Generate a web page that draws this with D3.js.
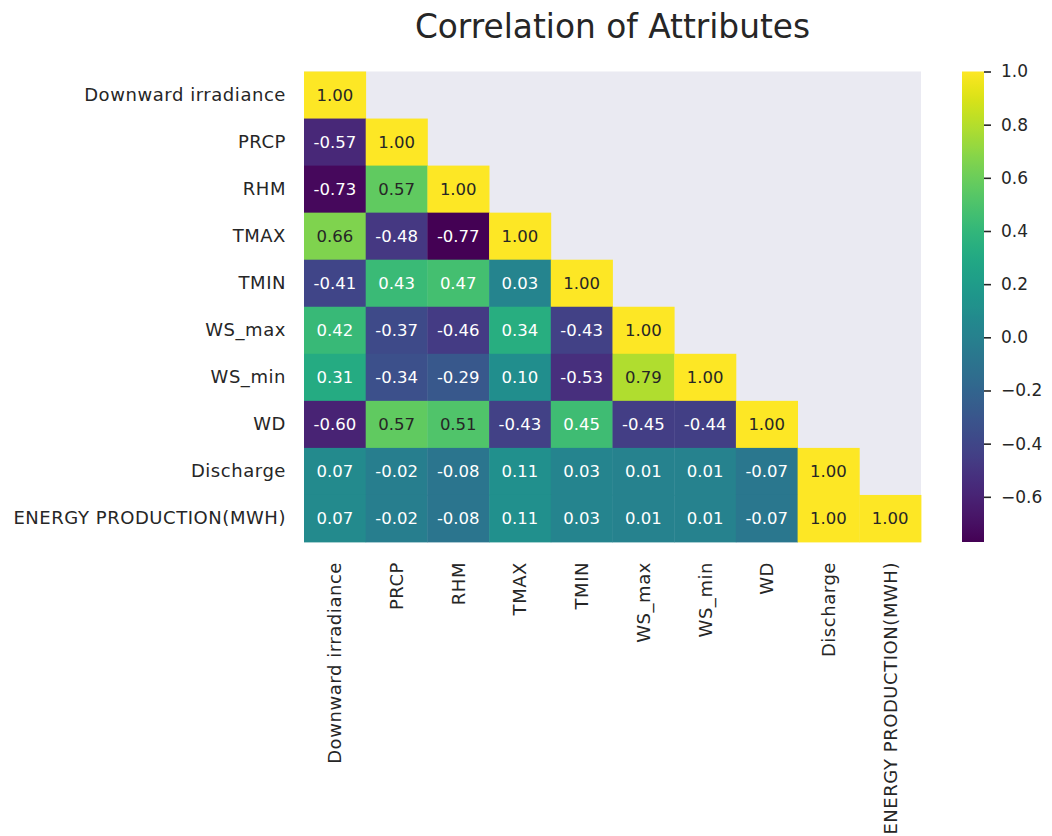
<!DOCTYPE html>
<html>
<head>
<meta charset="utf-8">
<script src="https://cdn.jsdelivr.net/npm/d3@7"></script>
<style>
  html, body { margin: 0; padding: 0; background: #ffffff; }
  svg { display: block; font-family: "DejaVu Sans", sans-serif; }
</style>
</head>
<body>
<svg id="chart" width="1052" height="836"></svg>
<script>
// Attribute names (rows and columns of the correlation matrix)
const attributes = [
  "Downward irradiance", "PRCP", "RHM", "TMAX", "TMIN",
  "WS_max", "WS_min", "WD", "Discharge", "ENERGY PRODUCTION(MWH)"
];

// Lower triangle (incl. diagonal) of the correlation matrix, one array per row
const rowDownward  = [1.00];
const rowPRCP      = [-0.57, 1.00];
const rowRHM       = [-0.73, 0.57, 1.00];
const rowTMAX      = [0.66, -0.48, -0.77, 1.00];
const rowTMIN      = [-0.41, 0.43, 0.47, 0.03, 1.00];
const rowWSmax     = [0.42, -0.37, -0.46, 0.34, -0.43, 1.00];
const rowWSmin     = [0.31, -0.34, -0.29, 0.10, -0.53, 0.79, 1.00];
const rowWD        = [-0.60, 0.57, 0.51, -0.43, 0.45, -0.45, -0.44, 1.00];
const rowDischarge = [0.07, -0.02, -0.08, 0.11, 0.03, 0.01, 0.01, -0.07, 1.00];
const rowEnergy    = [0.07, -0.02, -0.08, 0.11, 0.03, 0.01, 0.01, -0.07, 1.00, 1.00];

const colorbarTicks = [-0.6, -0.4, -0.2, 0.0, 0.2, 0.4, 0.6, 0.8, 1.0];

const title = "Correlation of Attributes";

// ---- build cells ----
const matrixRows = [rowDownward, rowPRCP, rowRHM, rowTMAX, rowTMIN,
                    rowWSmax, rowWSmin, rowWD, rowDischarge, rowEnergy];
const cells = [];
matrixRows.forEach((vals, i) => vals.forEach((v, j) => cells.push({ row: attributes[i], col: attributes[j], value: v })));

const allValues = cells.map(d => d.value);
const vmin = d3.min(allValues), vmax = d3.max(allValues);

// ---- layout ----
const svg = d3.select("#chart");
const plot = { left: 304, top: 71.5, width: 617, height: 470.5 };
const cbar = { left: 962, width: 22 };
const ink = "#262626";
const labelSize = 18, labelSpacing = "0.55px";

const x = d3.scaleBand().domain(attributes).range([plot.left, plot.left + plot.width]).padding(0);
const y = d3.scaleBand().domain(attributes).range([plot.top, plot.top + plot.height]).padding(0);
const color = d3.scaleSequential(d3.interpolateViridis).domain([vmin, vmax]);

// seaborn-style text colour choice from the cell's relative luminance
function luminance(c) {
  const rgb = d3.rgb(c);
  const lin = [rgb.r, rgb.g, rgb.b].map(v => {
    v /= 255;
    return v <= 0.03928 ? v / 12.92 : Math.pow((v + 0.055) / 1.055, 2.4);
  });
  return 0.2126 * lin[0] + 0.7152 * lin[1] + 0.0722 * lin[2];
}

// axes background (visible where the upper triangle is masked)
svg.append("rect")
  .attr("x", plot.left).attr("y", plot.top)
  .attr("width", plot.width).attr("height", plot.height)
  .attr("fill", "#eaeaf2");

// heatmap cells
svg.append("g")
  .selectAll("rect")
  .data(cells)
  .join("rect")
  .attr("x", d => x(d.col))
  .attr("y", d => y(d.row))
  .attr("width", x.bandwidth() + 0.4)
  .attr("height", y.bandwidth() + 0.4)
  .attr("fill", d => color(d.value));

// annotations
svg.append("g")
  .selectAll("text")
  .data(cells)
  .join("text")
  .attr("x", d => x(d.col) + x.bandwidth() / 2)
  .attr("y", d => y(d.row) + y.bandwidth() / 2)
  .attr("dy", "0.36em")
  .attr("text-anchor", "middle")
  .attr("font-size", 16.5)
  .attr("fill", d => luminance(color(d.value)) > 0.408 ? ink : "#ffffff")
  .text(d => d.value.toFixed(2));

// y axis labels
const yAxis = d3.axisLeft(y).tickSize(0).tickPadding(18);
const gy = svg.append("g").attr("transform", `translate(${plot.left},0)`).call(yAxis);
gy.select(".domain").remove();
gy.selectAll("text")
  .attr("font-size", labelSize).attr("letter-spacing", labelSpacing)
  .attr("fill", ink).attr("font-family", "DejaVu Sans");

// x axis labels, rotated
const xAxis = d3.axisBottom(x).tickSize(0).tickPadding(0);
const gx = svg.append("g").attr("transform", `translate(0,${plot.top + plot.height})`).call(xAxis);
gx.select(".domain").remove();
gx.selectAll("text")
  .attr("font-size", labelSize).attr("letter-spacing", labelSpacing)
  .attr("fill", ink).attr("font-family", "DejaVu Sans")
  .attr("text-anchor", "end")
  .attr("transform", "rotate(-90)")
  .attr("x", -20).attr("y", 0).attr("dy", "0.36em");

// colorbar
const cy = d3.scaleLinear().domain([vmin, vmax]).range([plot.top + plot.height, plot.top]);
const grad = svg.append("defs").append("linearGradient")
  .attr("id", "cbarGrad").attr("x1", 0).attr("y1", 1).attr("x2", 0).attr("y2", 0);
d3.range(0, 1.0001, 0.02).forEach(t => {
  grad.append("stop").attr("offset", t).attr("stop-color", d3.interpolateViridis(t));
});
svg.append("rect")
  .attr("x", cbar.left).attr("y", plot.top)
  .attr("width", cbar.width).attr("height", plot.height)
  .attr("fill", "url(#cbarGrad)");

const cAxis = d3.axisRight(cy).tickValues(colorbarTicks).tickSize(7).tickPadding(10)
  .tickFormat(d => d3.format(".1f")(d).replace("-", "\u2212"));
const gc = svg.append("g").attr("transform", `translate(${cbar.left + cbar.width},0)`).call(cAxis);
gc.select(".domain").remove();
gc.selectAll("line").attr("stroke", ink).attr("stroke-width", 1.6);
gc.selectAll("text").attr("font-size", 17).attr("fill", ink).attr("font-family", "DejaVu Sans");

// title
svg.append("text")
  .attr("x", plot.left + plot.width / 2)
  .attr("y", 38)
  .attr("text-anchor", "middle")
  .attr("font-size", 32.8)
  .attr("fill", ink)
  .text(title);
</script>
</body>
</html>
